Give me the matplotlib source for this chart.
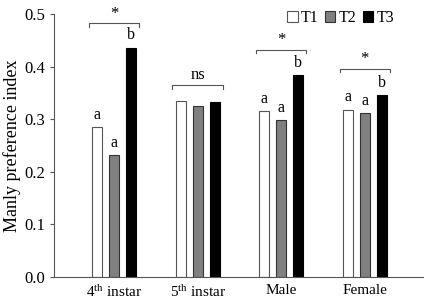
import numpy as np
import matplotlib.pyplot as plt

plt.rcParams['font.family'] = ['Liberation Serif', 'DejaVu Serif']
plt.rcParams['mathtext.default'] = 'regular'

groups = ['4$^{th}$ instar', '5$^{th}$ instar', 'Male', 'Female']
treatments = ['T1', 'T2', 'T3']
t1 = [0.285, 0.335, 0.315, 0.318]
t2 = [0.232, 0.325, 0.298, 0.311]
t3 = [0.436, 0.332, 0.384, 0.346]
letters = [['a', 'a', 'b'], ['', '', ''], ['a', 'a', 'b'], ['a', 'a', 'b']]
signif = ['*', 'ns', '*', '*']
bracket_y = [0.482, 0.365, 0.432, 0.396]

colors = ['white', '#808080', 'black']
edges = ['#555555', '#333333', 'black']

fig = plt.figure(figsize=(4.24, 3.02), dpi=100)
ax = fig.add_axes([0.127, 0.083, 0.871, 0.871])

x = np.arange(len(groups))
off = 0.204
w = 0.12
for k, (vals, c, ec, lab) in enumerate(zip([t1, t2, t3], colors, edges, treatments)):
    xs = x + (k - 1) * off
    ax.bar(xs, vals, width=w, color=c, edgecolor=ec, linewidth=0.8, label=lab, zorder=2)
    for i, v in enumerate(vals):
        if letters[i][k]:
            ax.text(xs[i], v + 0.008, letters[i][k], ha='center', va='bottom', fontsize=11.5)

# significance brackets
for i, (s, by) in enumerate(zip(signif, bracket_y)):
    x0, x1 = x[i] - 0.3, x[i] + 0.3
    ax.plot([x0, x0, x1, x1], [by - 0.007, by, by, by - 0.007], color='#555555', lw=0.8)
    ax.text(x[i], by + 0.003, s, ha='center', va='bottom', fontsize=12)

ax.set_xlim(-0.72, 3.70)
ax.set_ylim(0, 0.5)
ax.set_yticks([0.0, 0.1, 0.2, 0.3, 0.4, 0.5])
ax.set_yticklabels(['0.0', '0.1', '0.2', '0.3', '0.4', '0.5'])
ax.set_xticks(x)
ax.set_xticklabels(groups)
ax.tick_params(axis='x', length=0, labelsize=11, pad=5)
ax.tick_params(axis='y', length=3, labelsize=12, color='#555555')
ax.set_ylabel('Manly preference index', fontsize=13)
ax.yaxis.set_label_coords(-0.09, 0.5)
for sp in ['top', 'right']:
    ax.spines[sp].set_visible(False)
for sp in ['left', 'bottom']:
    ax.spines[sp].set_color('#555555')
    ax.spines[sp].set_linewidth(0.8)

ax.legend(loc='upper right', bbox_to_anchor=(0.96, 1.07), ncol=3, frameon=False,
          fontsize=11.5, handlelength=0.65, handleheight=0.65, handletextpad=0.2,
          columnspacing=0.4)

fig.savefig('out.png', dpi=100)
